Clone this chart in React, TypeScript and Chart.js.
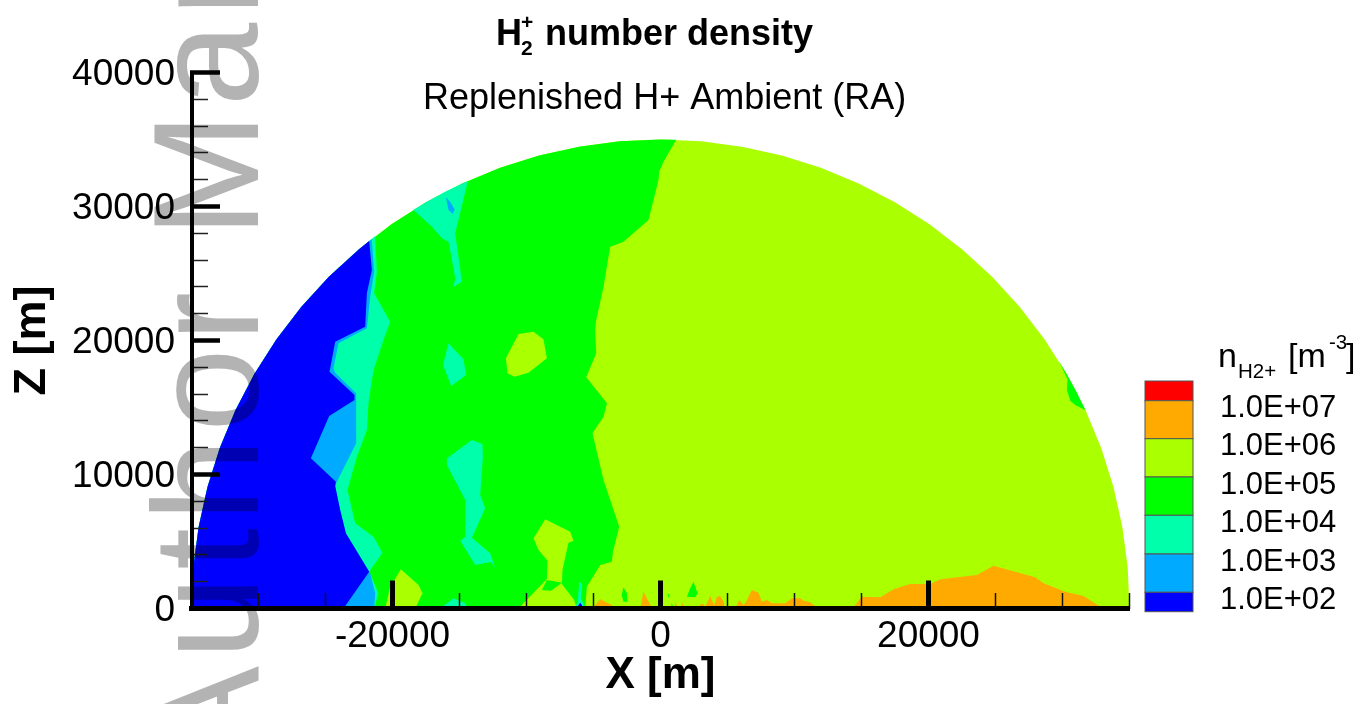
import React, { useEffect, useRef } from "react";
import { Chart, registerables } from "chart.js";

Chart.register(...registerables);

type Pt = [number, number];

const xMajorTicks = [-20000, 0, 20000];
const xMinorTicks = [-35000, -30000, -25000, -15000, -10000, -5000, 5000, 10000, 15000, 25000, 30000, 35000];
const yMajorTicks = [0, 10000, 20000, 30000, 40000];
const yMinorTicks = [2000, 4000, 6000, 8000, 12000, 14000, 16000, 18000, 22000, 24000, 26000, 28000, 32000, 34000, 36000, 38000];

const levelLabels = ["1.0E+07", "1.0E+06", "1.0E+05", "1.0E+04", "1.0E+03", "1.0E+02"];
const levelColors = ["#ff0000", "#ffaa00", "#aaff00", "#00ff00", "#00ffaa", "#00aaff", "#0000ff"];

const westArc: Pt[] = [[-35000, 0], [-34867, 3050], [-34468, 6078], [-33807, 9059], [-32889, 11971], [-31721, 14792], [-30311, 17500], [-28670, 20075], [-26812, 22498], [-24749, 24749], [-22498, 26812]];
const northArc: Pt[] = [[-20075, 28670], [-17500, 30311], [-14792, 31721], [-11971, 32889], [-9059, 33807], [-6078, 34468], [-3050, 34867], [0, 35000]];
const eastArc: Pt[] = [[3050, 34867], [6078, 34468], [9059, 33807], [11971, 32889], [14792, 31721], [17500, 30311], [20075, 28670], [22498, 26812], [24749, 24749], [26812, 22498], [28670, 20075], [30311, 17500], [31721, 14792], [32889, 11971], [33807, 9059], [34468, 6078], [34867, 3050], [35000, 0]];

const greenLimeEdge: Pt[] = [[1170, 34980], [224, 33345], [-97, 32600], [-149, 31979], [-896, 28994], [-2761, 27374], [-3754, 27001], [-4254, 24016], [-4821, 21404], [-4873, 20784], [-4799, 19046], [-5545, 17254], [-4000, 15314], [-4254, 14314], [-5075, 13075], [-4254, 9590], [-3082, 6105], [-3552, 4239], [-3627, 3493], [-4500, 3246], [-5493, 1627], [-5620, 134], [-5620, 0]];

const limeBlobBase: Pt[] = [[-10620, 0], [-8478, 2202], [-8433, 3567], [-9105, 4366], [-9478, 5239], [-8605, 6657], [-6739, 5732], [-6493, 5060], [-6866, 4911], [-7314, 2873], [-7358, 1828], [-6441, 634], [-6239, 0]];
const greenSliver: Pt[] = [[-8851, 1381], [-8478, 2127], [-7358, 1925], [-8179, 1328]];
const limeBlobUpper: Pt[] = [[-10597, 20486], [-9478, 20658], [-8732, 20090], [-8478, 18672], [-9851, 17598], [-10896, 17299], [-11418, 17553], [-11538, 18672]];
const limeBlobWest: Pt[] = [[-19374, 2925], [-18060, 1754], [-17762, 1134], [-18307, 0], [-20546, 0], [-20172, 1627]];

const greenFleckEast: Pt[] = [[29700, 18522], [30311, 17500], [31000, 16248], [31721, 14792], [30949, 15187], [30576, 15508], [30330, 16307], [30374, 17105]];
const greenFleckA: Pt[] = [[-2761, 1582], [-2508, 1134], [-2463, 507], [-2761, 507], [-2896, 1007]];
const greenFleckB: Pt[] = [[2463, 2000], [2761, 1134], [2590, 836], [1970, 881], [2216, 1508]];
const greenFleckC: Pt[] = [[522, 1157], [672, 1007], [597, 761]];
const greenFleckD: Pt[] = [[798, 410], [948, 187], [840, 100]];

const tealEdge: Pt[] = [[-21300, 27772], [-21165, 25135], [-21367, 23523], [-20172, 21404], [-20673, 20038], [-21367, 17926], [-21538, 17053], [-21792, 15314], [-21911, 13321], [-22658, 11329], [-23359, 8844], [-22784, 6358], [-21419, 5358], [-20747, 4164], [-21740, 2746], [-21046, 1134], [-21367, 0]];
const skyEdge: Pt[] = [[-21550, 27580], [-21367, 25135], [-21665, 23270], [-21911, 20911], [-24031, 19792], [-24404, 17926], [-24277, 17598], [-22710, 16060], [-22710, 12329], [-24150, 9463], [-24277, 9142], [-23904, 7351], [-23478, 5612], [-21665, 2627], [-21292, 1134], [-21367, 0]];
const blueEdge: Pt[] = [[-21740, 27430], [-21538, 25262], [-21911, 23546], [-22038, 21031], [-24277, 19911], [-24650, 17926], [-24703, 17672], [-22837, 15934], [-22837, 15560], [-24725, 14366], [-26091, 11209], [-24225, 9463], [-24277, 9142], [-23904, 7351], [-23478, 5612], [-21740, 2746], [-23658, 0]];

const tealTop: Pt[] = [[-18450, 29743], [-17500, 30311], [-16000, 31129], [-14374, 31912], [-15321, 28001], [-14822, 24389], [-15448, 24016], [-15321, 24643], [-15822, 27374], [-16314, 27628], [-17060, 28494]];
const skyFleckTop: Pt[] = [[-16016, 30688], [-15695, 30359], [-15374, 29792], [-15493, 29441], [-15822, 29740]];
const tealIslandA: Pt[] = [[-15822, 19792], [-14702, 18598], [-14501, 17426], [-15620, 16605], [-16240, 18173]];
const tealIslandB: Pt[] = [[-14075, 12575], [-13284, 12277], [-13254, 11329], [-13456, 8470], [-13083, 7478], [-14075, 5284], [-12710, 4120], [-12336, 3000], [-12635, 3470], [-13829, 3246], [-14948, 5060], [-14575, 5358], [-14575, 8097], [-15941, 10710], [-15941, 11209]];
const tealBaseA: Pt[] = [[-16441, 0], [-15448, 761], [-14575, 388], [-14426, 0]];
const tealSpike: Pt[] = [[-6067, 2000], [-5844, 1828], [-5941, 761], [-5694, 261], [-5694, 0], [-6366, 0], [-6164, 634]];
const blueSpike: Pt[] = [[-6291, 0], [-5993, 433], [-5694, 0]];

const orangeA: Pt[] = [[-5075, 0], [-4500, 687], [-3627, 261], [-3530, 0]];
const orangeB: Pt[] = [[-2250, 0], [-2000, 230], [-1750, 0]];
const orangeC: Pt[] = [[-1515, 0], [-1269, 1254], [-619, 0]];
const orangeD: Pt[] = [[1022, 0], [1149, 507], [1246, 0]];
const orangeE: Pt[] = [[1522, 0], [1642, 463], [1769, 0]];
const orangeF: Pt[] = [[2590, 0], [2963, 261], [3164, 373], [3336, 112], [3709, 933], [4008, 224], [4209, 881], [4455, 933], [4702, 507], [4829, 0]];
const orangeG: Pt[] = [[5575, 0], [5873, 634], [6194, 261], [6321, 388], [6821, 1381], [7314, 1179], [7567, 507], [7941, 634], [8314, 388], [9306, 388], [9806, 761], [10426, 761], [10672, 582], [11172, 463], [11769, 0]];
const orangeH: Pt[] = [[14307, 0], [15030, 881], [16396, 836], [17389, 1433], [18635, 1828], [20128, 1828], [20874, 2179], [23613, 2500], [24852, 3194], [27964, 2328], [28583, 1881], [30203, 1254], [31568, 933], [33039, 0]];

const [RED, ORANGE, LIME, GREEN, TEAL, SKY, BLUE] = levelColors;

// painted from the bottom layer upward
const layers: [Pt[], string][] = [
  [[...westArc, ...northArc, ...eastArc], LIME],
  [[...westArc, ...northArc, ...greenLimeEdge], GREEN],
  [greenFleckEast, GREEN],
  [greenFleckA, GREEN],
  [greenFleckB, GREEN],
  [greenFleckC, GREEN],
  [greenFleckD, GREEN],
  [limeBlobBase, LIME],
  [limeBlobUpper, LIME],
  [limeBlobWest, LIME],
  [greenSliver, GREEN],
  [[...westArc, ...tealEdge], TEAL],
  [tealTop, TEAL],
  [tealIslandA, TEAL],
  [tealIslandB, TEAL],
  [tealBaseA, TEAL],
  [tealSpike, TEAL],
  [skyFleckTop, SKY],
  [[...westArc, ...skyEdge], SKY],
  [[...westArc, ...blueEdge], BLUE],
  [blueSpike, BLUE],
  [orangeA, ORANGE],
  [orangeB, ORANGE],
  [orangeC, ORANGE],
  [orangeD, ORANGE],
  [orangeE, ORANGE],
  [orangeF, ORANGE],
  [orangeG, ORANGE],
  [orangeH, ORANGE],
];

const FONT = '"Liberation Sans", Arial, sans-serif';

function text(ctx: CanvasRenderingContext2D, s: string, x: number, y: number, font: string) {
  ctx.font = `${font} ${FONT}`;
  ctx.fillStyle = "#000";
  ctx.textAlign = "left";
  ctx.textBaseline = "alphabetic";
  ctx.fillText(s, x, y);
}

const background = {
  id: "background",
  beforeDraw(chart: Chart) {
    const ctx = chart.ctx;
    ctx.save();
    ctx.fillStyle = "#fff";
    ctx.fillRect(0, 0, chart.width, chart.height);
    ctx.restore();
  },
};

const annotations = {
  id: "annotations",
  afterDraw(chart: Chart) {
    const ctx = chart.ctx;
    ctx.save();
    // titles
    text(ctx, "H", 496, 45, "bold 36px");
    text(ctx, "2", 521, 55, "bold 21px");
    text(ctx, "+", 521, 29, "bold 21px");
    text(ctx, "number density", 545, 45, "bold 36px");
    text(ctx, "Replenished H+ Ambient (RA)", 423, 109, "36px");

    // colour bar
    const bar = [381, 400.7, 438.7, 477, 515.3, 554, 592.3, 611.7];
    levelColors.forEach((c, i) => {
      ctx.fillStyle = c;
      ctx.fillRect(1145, bar[i], 48, bar[i + 1] - bar[i]);
      ctx.strokeStyle = "#555";
      ctx.lineWidth = 1;
      ctx.strokeRect(1145, bar[i], 48, bar[i + 1] - bar[i]);
    });
    levelLabels.forEach((l, i) => {
      text(ctx, l, 1220, 417 + i * 38.4, "31px");
    });
    text(ctx, "n", 1218, 367, "34px");
    text(ctx, "H2+", 1238, 378, "20.5px");
    text(ctx, "[m", 1288, 367, "34px");
    text(ctx, "-3", 1329, 349, "20.5px");
    text(ctx, "]", 1346, 367, "34px");

    // watermark running up the page
    ctx.globalCompositeOperation = "multiply";
    ctx.translate(258, 766);
    ctx.rotate(-Math.PI / 2);
    ctx.font = `150px ${FONT}`;
    (ctx as any).letterSpacing = "6.4px";
    ctx.fillStyle = "#b3b3b3";
    ctx.textAlign = "left";
    ctx.textBaseline = "alphabetic";
    ctx.fillText("Author Manuscript", 0, 0);
    ctx.restore();
  },
};

const setTicks = (values: number[]) => (scale: any) => {
  scale.ticks = values.map((value) => ({ value }));
};

export default function App() {
  const ref = useRef<HTMLCanvasElement>(null);
  useEffect(() => {
    if (!ref.current) return;
    const tickFont = { family: FONT, size: 37 };
    const chart = new Chart(ref.current, {
      type: "scatter",
      data: {
        datasets: [...layers].reverse().map(([pts, color]) => ({
          data: pts.map(([x, y]) => ({ x, y })),
          showLine: true,
          fill: "shape",
          backgroundColor: color,
          borderColor: color,
          borderWidth: 0,
          pointRadius: 0,
          tension: 0,
          xAxisID: "x",
          yAxisID: "y",
        })),
      },
      options: {
        animation: false,
        responsive: false,
        events: [],
        layout: { padding: { left: 0, right: 230.5, top: 72.5, bottom: 0 } },
        plugins: { legend: { display: false }, tooltip: { enabled: false } },
        scales: {
          x: {
            type: "linear",
            min: -35000,
            max: 35000,
            position: "bottom",
            afterBuildTicks: setTicks(xMajorTicks),
            afterFit: (s: any) => { s.height = 95.5; },
            border: { display: true, color: "#000", width: 5, z: 2 },
            grid: { drawOnChartArea: false, tickLength: -28, tickWidth: 5, tickColor: "#000", z: 2 },
            ticks: { autoSkip: false, maxRotation: 0, minRotation: 0, color: "#000", font: tickFont, padding: 34.5, callback: (v: any) => String(v) },
            title: { display: true, text: "X [m]", color: "#000", font: { family: FONT, size: 44, weight: "bold" }, padding: { top: 0, bottom: 2 } },
          },
          x2: {
            type: "linear",
            min: -35000,
            max: 35000,
            position: "bottom",
            weight: -1,
            afterBuildTicks: setTicks(xMinorTicks),
            afterFit: (s: any) => { s.height = 0; },
            border: { display: false },
            grid: { drawOnChartArea: false, tickLength: -15.5, tickWidth: 1.5, tickColor: "#111", z: 1 },
            ticks: { display: false, autoSkip: false },
          },
          y: {
            type: "linear",
            min: 0,
            max: 40000,
            position: "left",
            afterBuildTicks: setTicks(yMajorTicks),
            afterFit: (s: any) => { s.width = 191.5; },
            border: { display: true, color: "#000", width: 4, z: 2 },
            grid: { drawOnChartArea: false, tickLength: -28.5, tickWidth: 4.5, tickColor: "#000", z: 2 },
            ticks: { autoSkip: false, color: "#000", font: tickFont, padding: 45, labelOffset: 2.5, callback: (v: any) => String(v) },
            title: { display: true, text: "Z [m]", color: "#000", font: { family: FONT, size: 45, weight: "bold" }, padding: { top: 6, bottom: 0 } },
          },
          y2: {
            type: "linear",
            min: 0,
            max: 40000,
            position: "left",
            weight: -1,
            afterBuildTicks: setTicks(yMinorTicks),
            afterFit: (s: any) => { s.width = 0; },
            border: { display: false },
            grid: { drawOnChartArea: false, tickLength: -16.5, tickWidth: 1.5, tickColor: "#222", z: 1 },
            ticks: { display: false, autoSkip: false },
          },
        },
      } as any,
      plugins: [background, annotations],
    } as any);
    return () => chart.destroy();
  }, []);
  return (
    <div style={{ position: "fixed", left: 0, top: 0, width: 1360, height: 704 }}>
      <canvas ref={ref} width={1360} height={704} style={{ display: "block" }} />
    </div>
  );
}
